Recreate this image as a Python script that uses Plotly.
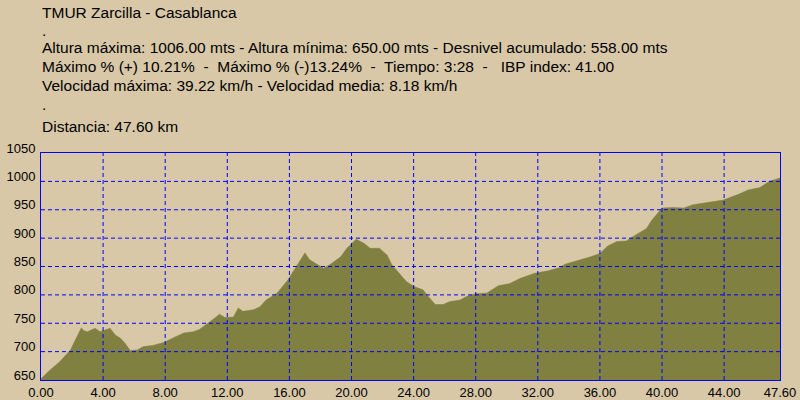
import plotly.graph_objects as go

distance_km = [0, 0.3, 0.6, 1.2, 1.9, 2.2, 2.5, 2.6, 2.75, 3.0, 3.3, 3.5, 3.8, 4.1, 4.45, 4.8, 5.1, 5.4, 5.75,
               6.2, 6.6, 7.2, 7.9, 8.5, 9.2, 9.8, 10.2, 10.9, 11.5, 11.85, 12.4, 12.7, 13.0, 13.7, 14.1, 14.5,
               15.2, 15.9, 16.6, 17.0, 17.3, 17.8, 18.2, 18.6, 19.3, 19.7, 20.3, 20.8, 21.2, 21.8, 22.3, 22.6,
               23.1, 23.55, 24.0, 24.6, 24.95, 25.4, 25.9, 26.3, 27.0, 27.4, 27.95, 28.7, 29.45, 30.2, 30.85,
               31.8, 32.6, 33.4, 33.75, 34.9, 35.4, 36.0, 36.5, 37.1, 37.7, 38.15, 38.6, 39.0, 39.35, 39.8,
               40.0, 40.7, 41.4, 42.0, 43.1, 43.95, 45.0, 45.55, 46.3, 46.9, 47.6]
elevation_m = [652, 660, 668, 682, 703, 720, 738, 742, 737, 735, 739, 741, 735, 738, 741, 729, 724, 715, 702,
               703, 709, 711, 716, 724, 733, 735, 739, 753, 766, 760, 761, 777, 771, 774, 779, 791,
               803, 826, 858, 874, 862, 853, 847, 853, 867, 882, 898, 891, 882, 882, 870, 853,
               838, 823, 815, 809, 797, 783, 783, 788, 791, 797, 802, 803, 816, 820, 829,
               838, 842, 848, 854, 863, 867, 873, 886, 894, 895, 903, 911, 917, 932, 947,
               953, 954, 953, 959, 964, 967, 978, 985, 989, 1000, 1006]

x_tickvals = [0, 4, 8, 12, 16, 20, 24, 28, 32, 36, 40, 44, 47.6]
x_ticktext = ["0.00", "4.00", "8.00", "12.00", "16.00", "20.00", "24.00", "28.00", "32.00",
              "36.00", "40.00", "44.00", "47.60"]
y_tickvals = [650, 700, 750, 800, 850, 900, 950, 1000, 1050]

header_lines = [
    "TMUR Zarcilla - Casablanca",
    ".",
    "Altura máxima: 1006.00 mts - Altura mínima: 650.00 mts - Desnivel acumulado: 558.00 mts",
    "Máximo % (+) 10.21%  -  Máximo % (-)13.24%  -  Tiempo: 3:28  -   IBP index: 41.00",
    "Velocidad máxima: 39.22 km/h - Velocidad media: 8.18 km/h",
    ".",
    "Distancia: 47.60 km",
]
header_y_px = [12, 30, 48, 67, 86, 104, 126]

BG = "#D8C8A8"
FILL = "#808040"
GRID = "#0000FF"
FONT = "Liberation Sans"

fig = go.Figure()
fig.add_trace(go.Scatter(
    x=distance_km, y=elevation_m, mode="lines",
    line=dict(color=FILL, width=0.5),
    fill="tozeroy", fillcolor=FILL, hoverinfo="skip", showlegend=False,
))

# dashed grid drawn above the filled profile, at the axis tick positions
for xv in x_tickvals[1:-1]:
    fig.add_shape(type="line", xref="x", yref="paper", x0=xv, x1=xv, y0=0, y1=1,
                  line=dict(color=GRID, width=1, dash="4px,3px"), layer="above")
for yv in y_tickvals[1:-1]:
    fig.add_shape(type="line", xref="paper", yref="y", x0=0, x1=1, y0=yv, y1=yv,
                  line=dict(color=GRID, width=1, dash="4px,3px"), layer="above")

top_px, bottom_px = 153, 380
for text, ypx in zip(header_lines, header_y_px):
    fig.add_annotation(
        text=text, xref="paper", yref="paper", x=-0.0015, xanchor="left",
        y=(bottom_px - ypx) / (bottom_px - top_px), yanchor="middle",
        showarrow=False, font=dict(family=FONT, size=15.5, color="black"),
    )

fig.update_layout(
    width=800, height=400,
    margin=dict(l=41, r=20, t=153, b=20),
    paper_bgcolor=BG, plot_bgcolor=BG,
    font=dict(family=FONT, size=13, color="black"),
    showlegend=False,
)
fig.update_xaxes(
    range=[0, 47.6], tickvals=x_tickvals, ticktext=x_ticktext,
    showgrid=False, automargin=False, layer="above traces",
    showline=True, linecolor=GRID, linewidth=1, mirror=True,
    zeroline=False, ticks="", tickfont=dict(family=FONT, size=13),
)
fig.update_yaxes(
    range=[650, 1050], tickvals=y_tickvals,
    showgrid=False, automargin=False, layer="above traces",
    showline=True, linecolor=GRID, linewidth=1, mirror=True,
    zeroline=False, ticks="", tickfont=dict(family=FONT, size=13),
    ticklabelshift=-5, ticklabelstandoff=2,
)

fig.write_html(
    "out.html",
    config={"displayModeBar": False},
    post_script="document.body.style.margin='0';document.body.style.background='#D8C8A8';",
)
